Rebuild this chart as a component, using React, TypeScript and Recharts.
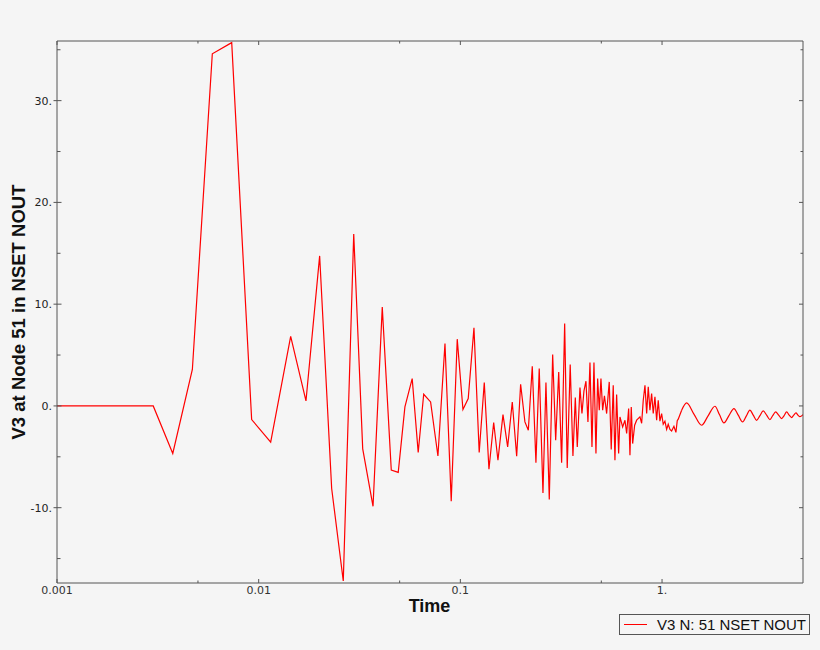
import React from 'react';
import { LineChart, Line, XAxis, YAxis, Legend } from 'recharts';

// ---------- data ----------
const shockTimes = [
  0.001, 0.003, 0.00375, 0.00469, 0.00589, 0.00735, 0.00923, 0.01147, 0.01441, 0.01716,
  0.02006, 0.02301, 0.02627, 0.0296, 0.0328, 0.0369, 0.041, 0.04544, 0.0492, 0.0531,
  0.0577, 0.0618, 0.0658, 0.0712, 0.0774, 0.0839, 0.0901, 0.0965, 0.103, 0.1094,
  0.1168, 0.124, 0.1314, 0.1386, 0.1463, 0.1536, 0.1627, 0.1716, 0.1809, 0.1902,
  0.199, 0.209, 0.2173, 0.2273, 0.237, 0.2461, 0.2568, 0.2657, 0.276, 0.2869,
  0.2969, 0.3074, 0.3178, 0.329, 0.3388, 0.3505, 0.3616, 0.3715, 0.38, 0.3918,
  0.4008, 0.4101, 0.4196, 0.4292, 0.4392, 0.4494, 0.4597, 0.4703, 0.4795, 0.4884,
  0.4979, 0.5077, 0.5182, 0.5313, 0.5473, 0.5599, 0.5728, 0.5841, 0.5955, 0.6093,
  0.6185, 0.6379, 0.6549, 0.6677, 0.6831, 0.6934, 0.7037, 0.715, 0.7316, 0.7485,
  0.7771, 0.7924, 0.807, 0.823, 0.839, 0.8544, 0.871, 0.888, 0.9045, 0.9222,
  0.9402, 0.9576, 0.9763, 0.9954, 1.0137, 1.0337, 1.0539, 1.0733, 1.0945, 1.1158,
  1.1455, 1.1719, 1.1896, 1.2031, 1.2509,
];
const shockValues = [
  0, 0, -4.67, 3.58, 34.6, 35.7, -1.34, -3.55, 6.84, 0.49,
  14.74, -8.11, -17.2, 16.9, -4.22, -9.86, 9.71, -6.31, -6.53, -0.1,
  2.69, -4.58, 1.15, 0.39, -4.92, 6.13, -9.37, 6.56, -0.36, 0.73,
  7.67, -4.58, 2.3, -6.22, -1.63, -5.34, -0.85, -4.03, 0.39, -4.95,
  2.13, -1.57, -2.39, 3.9, -5.57, 3.68, -8.55, 2.3, -9.2, 5.05,
  -3.37, 3.34, -5.57, 8.1, -6.1, 4.07, -4.92, 0.82, -4.03, 1.81,
  -0.75, 1.48, 2.43, -1.57, 4.27, -4.03, 4.27, -4.68, 2.69, -0.42,
  2.69, -0.42, 1.0, -0.75, 2.36, -4.29, 2.04, -5.34, 1.12, -4.68,
  -1.08, -2.06, -1.41, -2.71, -0.26, -4.85, -0.1, -3.7, -1.9, -1.4,
  -1.08, -1.7, 0.56, 2.03, -0.75, 1.87, -0.42, 1.22, -0.75, 0.89,
  -1.4, 0.56, -1.5, -0.75, -1.8, -1.5, -2.3, -1.8, -2.3, -2.46,
  -2.0, -2.6, -1.45, -1.3, -0.42,
];
const tailTimes = [
  1.2509, 1.3243, 1.4393, 1.5717, 1.6888, 1.8294, 1.9258, 2.0273, 2.1464, 2.2725,
  2.3868, 2.5091, 2.6151, 2.7277, 2.8326, 2.9444, 3.0576, 3.1747, 3.3004, 3.4277,
  3.5384, 3.6578, 3.7854, 3.9174, 4.0309, 4.1477, 4.2679, 4.3915, 4.4978, 4.6121,
  4.7183, 4.8272, 5.0,
];
const tailValues = [
  -0.42, 0.3, -0.8, -1.9, -1.0, -0.03, -0.85, -1.67, -0.95, -0.26,
  -0.9, -1.57, -1.0, -0.42, -0.9, -1.41, -0.95, -0.49, -0.9, -1.34,
  -0.95, -0.59, -0.9, -1.24, -0.95, -0.59, -0.9, -1.14, -0.9, -0.69,
  -0.9, -1.05, -0.85,
];

const timeTicks = [0.001, 0.005, 0.01, 0.05, 0.1, 0.5, 1];
const timeTickLabels: Record<string, string> = { '0.001': '0.001', '0.01': '0.01', '0.1': '0.1', '1': '1.' };
const v3Ticks = [-15, -10, -5, 0, 5, 10, 15, 20, 25, 30, 35];
const v3TickLabels: Record<string, string> = { '-10': '-10.', '0': '0.', '10': '10.', '20': '20.', '30': '30.' };
const timeDomain: [number, number] = [0.001, 5];
const v3Domain: [number, number] = [-17.4, 35.86];
const seriesName = 'V3 N: 51 NSET NOUT';
const xTitle = 'Time';
const yTitle = 'V3 at Node 51 in NSET NOUT';

const shockData = shockTimes.map((t, i) => ({ t, v: shockValues[i] }));
const tailData = tailTimes.map((t, i) => ({ t, v: tailValues[i] }));

// ---------- style ----------
const BG = '#f5f5f5';
const FRAME = '#555555';
const RED = '#ff0000';
const TICK_FONT = '"DejaVu Sans", Verdana, sans-serif';
const TITLE_FONT = '"Liberation Sans", Arial, sans-serif';

const isMajorTime = (v: number) => timeTickLabels[String(v)] !== undefined;

const BottomTick = (props: any) => {
  const { x, y, payload } = props;
  const major = isMajorTime(payload.value);
  const label = timeTickLabels[String(payload.value)];
  return (
    <g>
      <line x1={x} x2={x} y1={y} y2={y - (major ? 4 : 2.5)} stroke={FRAME} strokeWidth={1} />
      {label && (
        <text x={x} y={y + 11} textAnchor="middle" fontFamily={TICK_FONT} fontSize={11} fill="#333">
          {label}
        </text>
      )}
    </g>
  );
};

const TopTick = (props: any) => {
  const { x, y, payload } = props;
  const major = isMajorTime(payload.value);
  return <line x1={x} x2={x} y1={y} y2={y + (major ? 4 : 2.5)} stroke={FRAME} strokeWidth={1} />;
};

const LeftTick = (props: any) => {
  const { x, y, payload } = props;
  const major = payload.value % 10 === 0;
  const label = v3TickLabels[String(payload.value)];
  return (
    <g>
      <line x1={major ? x - 3.5 : x} x2={major ? x + 4.5 : x + 3.5} y1={y} y2={y} stroke={FRAME} strokeWidth={1} />
      {label && (
        <text x={x - 5} y={y + 4} textAnchor="end" fontFamily={TICK_FONT} fontSize={11} fill="#222">
          {label}
        </text>
      )}
    </g>
  );
};

const RightTick = (props: any) => {
  const { x, y, payload } = props;
  const major = payload.value % 10 === 0;
  return <line x1={x} x2={x - (major ? 4 : 2.5)} y1={y} y2={y} stroke={FRAME} strokeWidth={1} />;
};

const renderXTitle = () => (
  <text x={429.5} y={612} textAnchor="middle" fontFamily={TITLE_FONT} fontWeight="bold" fontSize={18} fill="#111">
    {xTitle}
  </text>
);

const renderYTitle = () => (
  <text
    x={24.5}
    y={312}
    textAnchor="middle"
    transform="rotate(-90 24.5 312)"
    fontFamily={TITLE_FONT}
    fontWeight="bold"
    fontSize={18.5}
    fill="#111"
  >
    {yTitle}
  </text>
);

const LegendBox = () => (
  <div
    style={{
      boxSizing: 'border-box',
      width: 191,
      height: 21,
      border: `1px solid ${FRAME}`,
      background: BG,
      display: 'flex',
      alignItems: 'center',
      fontFamily: TITLE_FONT,
      fontSize: 15,
      color: '#111',
      whiteSpace: 'nowrap',
    }}
  >
    <span style={{ display: 'inline-block', width: 23, height: 0, borderTop: `1px solid ${RED}`, marginLeft: 4, marginRight: 10 }} />
    <span>{seriesName}</span>
  </div>
);

export default function App() {
  return (
    <div style={{ position: 'absolute', left: 0, top: 0, width: 820, height: 650, background: BG }}>
      <LineChart width={820} height={650} margin={{ top: 40, right: 16, bottom: 66, left: 56 }}>
        <XAxis
          xAxisId="bottom"
          dataKey="t"
          type="number"
          scale="log"
          domain={timeDomain}
          allowDataOverflow
          ticks={timeTicks}
          interval={0}
          height={1}
          tickSize={0}
          tickMargin={0}
          tickLine={false}
          axisLine={{ stroke: FRAME }}
          tick={BottomTick}
          label={renderXTitle}
        />
        <XAxis
          xAxisId="top"
          orientation="top"
          dataKey="t"
          type="number"
          scale="log"
          domain={timeDomain}
          allowDataOverflow
          ticks={timeTicks}
          interval={0}
          height={1}
          tickSize={0}
          tickMargin={0}
          tickLine={false}
          axisLine={{ stroke: FRAME }}
          tick={TopTick}
        />
        <YAxis
          yAxisId="left"
          type="number"
          domain={v3Domain}
          allowDataOverflow
          ticks={v3Ticks}
          interval={0}
          width={1}
          tickSize={0}
          tickMargin={0}
          tickLine={false}
          axisLine={{ stroke: FRAME }}
          tick={LeftTick}
          label={renderYTitle}
        />
        <YAxis
          yAxisId="right"
          orientation="right"
          type="number"
          domain={v3Domain}
          allowDataOverflow
          ticks={v3Ticks}
          interval={0}
          width={1}
          tickSize={0}
          tickMargin={0}
          tickLine={false}
          axisLine={{ stroke: FRAME }}
          tick={RightTick}
        />
        <Legend
          layout="vertical"
          align="center"
          verticalAlign="middle"
          content={LegendBox}
          wrapperStyle={{ left: 619, top: 614, width: 191, height: 21 }}
        />
        <Line
          xAxisId="top"
          yAxisId="right"
          data={shockData}
          dataKey="v"
          stroke="none"
          dot={false}
          legendType="none"
          isAnimationActive={false}
        />
        <Line
          xAxisId="bottom"
          yAxisId="left"
          data={shockData}
          dataKey="v"
          name={seriesName}
          type="linear"
          stroke={RED}
          strokeWidth={1.2}
          dot={false}
          isAnimationActive={false}
        />
        <Line
          xAxisId="bottom"
          yAxisId="left"
          data={tailData}
          dataKey="v"
          name={seriesName}
          type="monotone"
          stroke={RED}
          strokeWidth={1.2}
          dot={false}
          legendType="none"
          isAnimationActive={false}
        />
      </LineChart>
    </div>
  );
}
